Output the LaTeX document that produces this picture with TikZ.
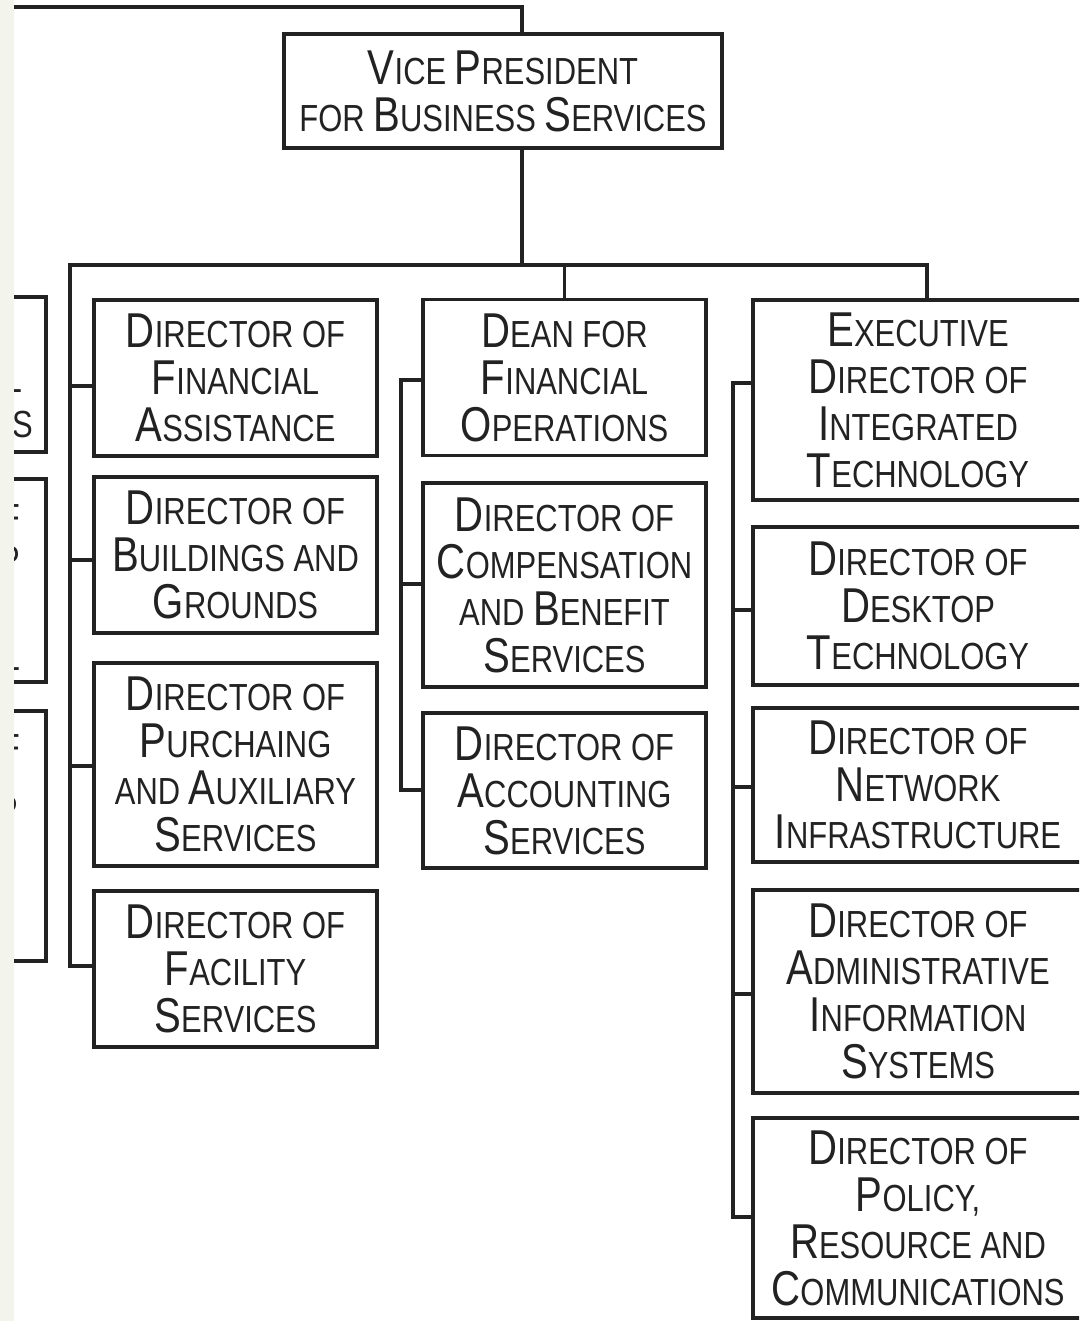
\documentclass[tikz,border=0pt]{standalone}
\usepackage{fontspec}
\setmainfont{Liberation Sans}[FakeStretch=0.82]
\usetikzlibrary{calc}
\definecolor{ink}{RGB}{34,34,34}
\definecolor{strip}{RGB}{243,245,237}
% large initial capital for the small-caps style labels
\newcommand\bigL[1]{{\fontsize{36.7}{35.25}\selectfont #1}}
\tikzset{
  bx/.style 2 args={draw=ink, line width=2.3pt, fill=white, inner sep=0pt,
    minimum width=#1*0.75pt, minimum height=#2*0.75pt,
    align=center, text=ink, font=\fontsize{28.3}{35.25}\selectfont},
  wire/.style={draw=ink, line width=2.3pt, line cap=rect},
  frag/.style={text=ink, inner sep=0pt, anchor=base east,
    font=\fontsize{28.3}{35.25}\selectfont}
}
\begin{document}
\begin{tikzpicture}[x=0.75pt, y=-0.75pt]
\clip (0,0) rectangle (1079,1321);
\fill[white] (0,0) rectangle (1079,1321);

% partial boxes at the left edge
\draw[wire] (-40,297) rectangle (46,452);
\draw[wire] (-40,479) rectangle (46,682);
\draw[wire] (-40,711) rectangle (46,961);
\node[frag] (f1) at (22,392) {L};
\node[frag] (f2) at (33,437) {S};
\node[frag] (f3) at (20,530) {F};
\node[frag] (f4) at (20,572) {P};
\node[frag] (f5) at (20,670) {L};
\node[frag] (f6) at (20,760) {F};
\node[frag] (f7) at (18,822) {P};

% top box
\node[bx={438}{114}] (vp) at (503,91)
  {\bigL{V}ICE \bigL{P}RESIDENT\\FOR \bigL{B}USINESS \bigL{S}ERVICES};

% left column
\node[bx={283}{156}] (fa) at (235.5,378)
  {\bigL{D}IRECTOR OF\\\bigL{F}INANCIAL\\\bigL{A}SSISTANCE};
\node[bx={283}{156}] (bg) at (235.5,555)
  {\bigL{D}IRECTOR OF\\\bigL{B}UILDINGS AND\\\bigL{G}ROUNDS};
\node[bx={283}{203}] (pa) at (235.5,764.5)
  {\bigL{D}IRECTOR OF\\\bigL{P}URCHAING\\AND \bigL{A}UXILIARY\\\bigL{S}ERVICES};
\node[bx={283}{156}] (fs) at (235.5,969)
  {\bigL{D}IRECTOR OF\\\bigL{F}ACILITY\\\bigL{S}ERVICES};

% middle column
\node[bx={283}{156}] (fo) at (564.5,377.5)
  {\bigL{D}EAN FOR\\\bigL{F}INANCIAL\\\bigL{O}PERATIONS};
\node[bx={283}{204}] (cb) at (564.5,585)
  {\bigL{D}IRECTOR OF\\\bigL{C}OMPENSATION\\AND \bigL{B}ENEFIT\\\bigL{S}ERVICES};
\node[bx={283}{155}] (ac) at (564.5,790.5)
  {\bigL{D}IRECTOR OF\\\bigL{A}CCOUNTING\\\bigL{S}ERVICES};

% right column
\node[bx={330}{200}] (it) at (918,400)
  {\bigL{E}XECUTIVE\\\bigL{D}IRECTOR OF\\\bigL{I}NTEGRATED\\\bigL{T}ECHNOLOGY};
\node[bx={330}{158}] (dt) at (918,606)
  {\bigL{D}IRECTOR OF\\\bigL{D}ESKTOP\\\bigL{T}ECHNOLOGY};
\node[bx={330}{154}] (ni) at (918,785)
  {\bigL{D}IRECTOR OF\\\bigL{N}ETWORK\\\bigL{I}NFRASTRUCTURE};
\node[bx={330}{203}] (ai) at (918,991.5)
  {\bigL{D}IRECTOR OF\\\bigL{A}DMINISTRATIVE\\\bigL{I}NFORMATION\\\bigL{S}YSTEMS};
\node[bx={330}{200}] (pr) at (918,1218)
  {\bigL{D}IRECTOR OF\\\bigL{P}OLICY,\\\bigL{R}ESOURCE AND\\\bigL{C}OMMUNICATIONS};

% junction points of the connector tree
\coordinate (up) at (14,7);
\coordinate (j) at (522,265);
\coordinate (busl) at (70,265);
\coordinate (busr) at (927,265);
\coordinate (mt) at (401,380);
\coordinate (rt) at (733,383);

% connectors
\draw[wire] (up) -| (vp.north -| j);
\draw[wire] (vp.south -| j) -- (j);
\draw[wire] (busl) -- (busr);
\draw[wire] (busr) -- (it.north -| busr);
\draw[wire] (fo.north) -- (fo.north |- j);
% left trunk
\draw[wire] (busl) |- (fs.west |- 0,966);
\draw[wire] (busl |- 0,386) -- (fa.west |- 0,386);
\draw[wire] (busl |- 0,560) -- (bg.west |- 0,560);
\draw[wire] (busl |- 0,766) -- (pa.west |- 0,766);
% middle trunk
\draw[wire] (fo.west |- mt) -- (mt) |- (ac.west |- 0,790);
\draw[wire] (mt |- 0,584) -- (cb.west |- 0,584);
% right trunk
\draw[wire] (it.west |- rt) -- (rt) |- (pr.west |- 0,1217);
\draw[wire] (rt |- 0,610) -- (dt.west |- 0,610);
\draw[wire] (rt |- 0,787) -- (ni.west |- 0,787);
\draw[wire] (rt |- 0,994) -- (ai.west |- 0,994);

% pale strip along the left edge
\fill[strip] (0,0) rectangle (14,1321);
\end{tikzpicture}
\end{document}
